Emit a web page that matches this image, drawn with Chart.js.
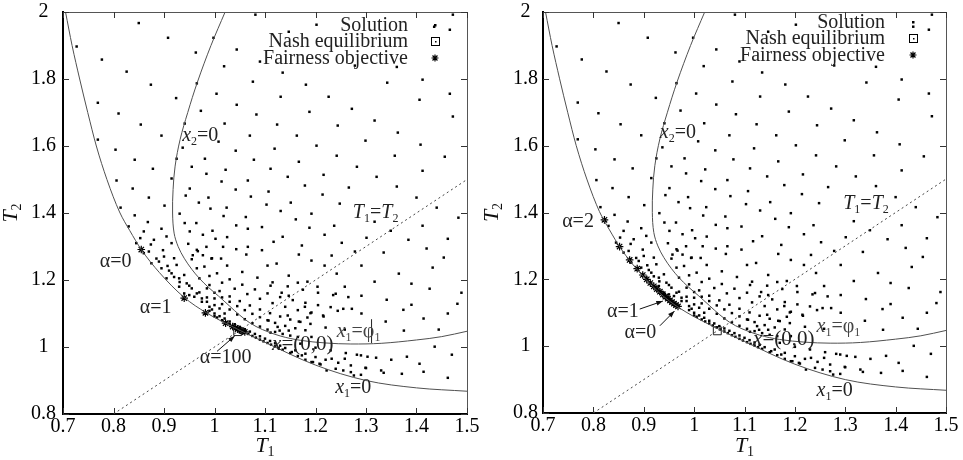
<!DOCTYPE html>
<html><head><meta charset="utf-8">
<script src="https://cdn.jsdelivr.net/npm/chart.js@4/dist/chart.umd.min.js"></script>
<style>
html,body{margin:0;padding:0;background:#fff;}
#wrap{position:relative;width:963px;height:460px;overflow:hidden;}
canvas{position:absolute;top:0;}
</style></head><body>
<div id="wrap">
<canvas id="c1" width="481" height="460" style="left:0"></canvas>
<canvas id="c2" width="482" height="460" style="left:481px"></canvas>
</div>
<script>
// ---------- data (T1, T2) ----------
const xTickValues = [0.7,0.8,0.9,1,1.1,1.2,1.3,1.4,1.5];
const yTickValues = [0.8,1,1.2,1.4,1.6,1.8,2];

const solutionPoints = [
[1.081,1.992],[0.850,1.967],[0.908,1.923],[0.998,1.923],[0.727,1.897],[0.963,1.879],[1.044,1.888],[0.777,1.858],[1.019,1.838],[1.090,1.852],
[0.826,1.822],[1.076,1.792],[0.874,1.783],[0.965,1.787],[1.004,1.756],[0.769,1.729],[0.924,1.743],[1.044,1.723],[0.810,1.697],[0.973,1.705],
[1.083,1.694],[0.854,1.664],[1.020,1.667],[0.941,1.667],[0.769,1.619],[0.895,1.631],[1.008,1.613],[1.070,1.631],[0.804,1.589],[0.937,1.595],
[1.042,1.586],[0.842,1.559],[0.925,1.562],[0.981,1.562],[1.078,1.559],[0.878,1.532],[0.955,1.538],[1.022,1.529],[0.806,1.497],[0.915,1.503],
[0.984,1.517],[1.014,1.494],[1.066,1.497],[0.838,1.473],[0.951,1.473],[1.042,1.470],[0.870,1.446],[0.943,1.452],[0.988,1.446],[1.072,1.449],
[0.814,1.416],[0.901,1.422],[0.969,1.431],[0.992,1.413],[1.024,1.416],
[1.472,1.992],[1.202,1.962],[1.147,1.941],[1.435,1.956],[1.466,1.947],[1.135,1.819],[1.412,1.798],[1.181,1.783],[1.342,1.789],[1.466,1.756],
[1.131,1.747],[1.226,1.747],[1.406,1.738],[1.188,1.702],[1.272,1.711],[1.124,1.664],[1.472,1.688],[1.317,1.676],[1.244,1.661],[1.163,1.631],
[1.363,1.640],[1.299,1.616],[1.119,1.592],[1.202,1.601],[1.408,1.604],[1.242,1.571],[1.357,1.571],[1.456,1.568],[1.111,1.532],[1.167,1.553],
[1.282,1.538],[1.412,1.526],[1.145,1.508],[1.216,1.514],[1.321,1.508],[1.107,1.464],[1.179,1.482],[1.266,1.476],[1.361,1.479],[1.214,1.455],
[1.400,1.446],[1.151,1.431],[1.248,1.428],[1.440,1.416],[1.131,1.406],[1.103,1.425],[1.278,1.840],[1.361,1.836],
[0.842,1.393],[0.868,1.373],[0.895,1.353],[0.853,1.325],[0.874,1.306],[0.898,1.289],[0.885,1.264],[0.907,1.242],[0.920,1.209],[0.931,1.194],
[0.931,1.398],[0.941,1.370],[0.964,1.370],[0.951,1.345],[0.977,1.335],[0.996,1.347],[1.018,1.391],[1.062,1.388],[1.043,1.363],[1.066,1.353],
[1.094,1.358],[1.002,1.323],[1.025,1.328],[0.948,1.308],[1.017,1.299],[1.066,1.299],[1.043,1.292],[0.967,1.286],[0.984,1.299],[0.994,1.264],
[1.013,1.264],[0.977,1.274],[0.957,1.274],[1.063,1.276],[1.094,1.289],
[0.870,1.285],[0.890,1.255],[0.910,1.228],[0.930,1.205],[0.950,1.183],[0.970,1.163],[0.985,1.148],
[0.940,1.160],[0.960,1.150],[0.975,1.135],[0.990,1.120],
[0.830,1.360],[0.860,1.345],[0.905,1.330],[0.845,1.310],[0.880,1.320],[0.915,1.310],[0.860,1.280],[0.900,1.270],[0.920,1.265],[0.875,1.250],
[0.925,1.245],[0.895,1.235],[0.915,1.220],[0.940,1.215],[0.905,1.205],[0.945,1.190],[0.930,1.180],[0.955,1.175],[0.965,1.160],[0.950,1.155],
[0.975,1.145],[0.985,1.135],[1.000,1.125],[1.010,1.115],[0.995,1.112],[1.020,1.100],
[0.990,1.108],[1.000,1.100],[1.010,1.092],[1.020,1.085],[1.030,1.076],[1.040,1.068],[1.050,1.060],[1.060,1.053],[1.070,1.046],[1.080,1.039],
[1.090,1.032],[1.100,1.025],[1.110,1.018],[1.120,1.011],[1.130,1.004],[1.140,0.997],
[1.000,1.092],[1.015,1.080],[1.030,1.068],[1.045,1.056],[1.060,1.044],[1.075,1.033],[1.090,1.022],[1.105,1.012],[1.120,1.002],[1.135,0.992],
[1.150,0.982],[1.165,0.973],
[1.005,1.088],[1.022,1.074],[1.037,1.062],[1.052,1.050],[1.067,1.039],[1.082,1.028],[1.097,1.017],[1.112,1.007],[1.127,0.997],
[1.000,1.145],[1.015,1.128],[1.030,1.112],[1.045,1.097],[1.060,1.083],[1.075,1.071],[1.090,1.061],[1.105,1.052],[1.120,1.045],[1.135,1.039],
[1.150,1.034],[1.165,1.030],
[0.985,1.175],[1.000,1.162],[1.015,1.148],[1.030,1.135],[1.045,1.122],[1.060,1.110],[1.075,1.099],[1.090,1.089],[1.105,1.080],[1.120,1.072],
[1.140,1.063],[1.160,1.056],[1.180,1.050],
[0.970,1.205],[0.990,1.185],[1.010,1.167],[1.030,1.151],[1.050,1.137],[1.070,1.124],[1.090,1.112],[1.110,1.101],[1.130,1.091],[1.150,1.082],
[1.170,1.075],[1.190,1.069],
[0.965,1.235],[0.990,1.212],[1.015,1.192],[1.040,1.174],[1.065,1.158],[1.090,1.144],[1.115,1.131],[1.140,1.120],[1.165,1.110],[1.190,1.101],
[1.215,1.094],
[0.955,1.262],[0.980,1.240],[1.005,1.220],[1.030,1.202],[1.055,1.186],[1.080,1.172],[1.105,1.160],[1.130,1.149],[1.155,1.140],[1.180,1.132],
[1.205,1.125],[1.230,1.119],[1.255,1.114],
[0.965,1.290],[0.995,1.265],[1.025,1.243],[1.055,1.224],[1.085,1.207],[1.115,1.193],[1.145,1.181],[1.175,1.171],[1.205,1.162],[1.235,1.155],
[1.265,1.149],
[1.180,0.962],[1.195,0.955],[1.210,0.948],[1.240,0.935],[1.255,0.930],[1.270,0.925],[1.290,0.917],
[1.160,0.990],[1.180,0.980],[1.200,0.970],[1.220,0.962],[1.245,0.953],[1.270,0.945],[1.300,0.937],[1.330,0.930],
[1.170,1.010],[1.200,0.998],[1.230,0.990],[1.260,0.982],[1.290,0.975],[1.320,0.968],[1.350,0.962],
[1.192,1.398],[1.161,1.381],[1.188,1.356],[1.237,1.362],[1.317,1.374],[1.349,1.347],[1.412,1.362],[1.483,1.386],[1.462,1.323],[1.135,1.329],
[1.117,1.314],[1.173,1.303],[1.218,1.335],[1.252,1.311],[1.301,1.326],[1.384,1.320],[1.420,1.294],[1.167,1.276],[1.192,1.258],[1.232,1.273],
[1.278,1.285],[1.335,1.282],[1.454,1.267],[1.105,1.243],[1.123,1.249],[1.147,1.213],[1.218,1.243],[1.242,1.219],[1.291,1.243],[1.365,1.219],
[1.432,1.237],[1.111,1.183],[1.133,1.162],[1.165,1.192],[1.184,1.195],[1.204,1.180],[1.258,1.180],[1.317,1.195],[1.390,1.189],[1.489,1.162],
[1.147,1.153],[1.179,1.120],[1.192,1.103],[1.240,1.159],[1.272,1.114],[1.291,1.153],[1.341,1.141],[1.390,1.126],[1.426,1.174],[1.481,1.129],
[1.107,1.079],[1.125,1.060],[1.145,1.094],[1.167,1.076],[1.184,1.088],[1.216,1.091],[1.244,1.108],[1.291,1.100],[1.339,1.076],[1.374,1.111],
[1.414,1.085],[1.462,1.100],[1.111,1.043],[1.129,1.049],[1.147,1.049],[1.192,1.030],[1.220,1.058],[1.258,1.052],[1.375,1.049],[1.444,1.052],
[1.153,0.985],[1.173,0.975],[1.192,0.955],[1.208,0.950],[1.232,0.965],[1.258,0.965],[1.282,0.977],[1.303,0.971],[1.381,0.971],[1.406,0.950],
[1.436,1.001],[1.470,0.977],[1.222,0.930],[1.276,0.915],[1.299,0.938],[1.335,0.923],[1.371,0.920],[1.414,0.926],[1.462,0.908]
];

const curveX1Zero = [[0.705,2.0],[0.718,1.90],[0.733,1.80],[0.749,1.70],[0.766,1.60],[0.787,1.50],[0.812,1.403],[0.832,1.348],
[0.855,1.291],[0.891,1.222],[0.940,1.148],[0.984,1.102],[1.050,1.050],[1.100,1.014],[1.200,0.946],[1.300,0.900],[1.400,0.878],[1.500,0.868]];

const curveX2Zero = [[1.021,2.0],[0.993,1.90],[0.966,1.79],[0.947,1.70],[0.932,1.62],[0.922,1.54],[0.918,1.47],[0.917,1.40],
[0.920,1.34],[0.928,1.30],[0.940,1.265],[0.955,1.232],[0.970,1.205],[0.988,1.178],[1.008,1.152],[1.030,1.122],[1.050,1.095],
[1.070,1.072],[1.095,1.052],[1.130,1.033],[1.170,1.020],[1.220,1.012],[1.270,1.009],[1.330,1.011],[1.400,1.021],[1.450,1.031],[1.500,1.047]];

const diagonalT1eqT2 = [[0.8,0.8],[1.5,1.5]];
const phiMarkerLeft = [[1.311,1.012],[1.311,1.083]];

const nashLeft = [[1.046,1.046]];
const nashRight = [[1.046,1.046]];

const fairnessLeft = [[0.855,1.291],[0.940,1.146],[0.982,1.102],[1.022,1.071],[1.036,1.061],[1.042,1.057],[1.046,1.054],
[1.050,1.051],[1.053,1.049],[1.056,1.047],[1.060,1.045]];

const fairnessRight = [[0.822,1.378],[0.852,1.298],[0.872,1.258],[0.887,1.232],[0.898,1.213],[0.906,1.200],[0.913,1.189],
[0.920,1.179],[0.926,1.171],[0.932,1.163],[0.938,1.155],[0.943,1.148],[0.948,1.142],[0.952,1.137],[0.956,1.132],[0.960,1.127],
[0.964,1.123],[0.968,1.119]];

// ---------- annotation texts ----------
const labelsLeft = [
  {parts:[{t:'x',it:1},{t:'2',sub:1},{t:'=0'}], at:[0.936,1.636]},
  {parts:[{t:'T',it:1},{t:'1',sub:1},{t:'='},{t:'T',it:1},{t:'2',sub:1}], at:[1.274,1.406]},
  {parts:[{t:'α=0'}], at:[0.773,1.260]},
  {parts:[{t:'α=1'}], at:[0.852,1.122]},
  {parts:[{t:'α=100'}], at:[0.971,0.974]},
  {parts:[{t:'x',it:1},{t:'=(0,0)'}], at:[1.114,1.012], size:21},
  {parts:[{t:'x',it:1},{t:'1',sub:1},{t:'=φ'},{t:'1',sub:1}], at:[1.242,1.051], color:'#444'},
  {parts:[{t:'x',it:1},{t:'1',sub:1},{t:'=0'}], at:[1.239,0.884]}
];
const labelsRight = [
  {parts:[{t:'x',it:1},{t:'2',sub:1},{t:'=0'}], at:[0.932,1.645]},
  {parts:[{t:'T',it:1},{t:'1',sub:1},{t:'='},{t:'T',it:1},{t:'2',sub:1}], at:[1.296,1.430]},
  {parts:[{t:'α=2'}], at:[0.738,1.379]},
  {parts:[{t:'α=1'}], at:[0.890,1.108], align:'right'},
  {parts:[{t:'α=0'}], at:[0.925,1.045], align:'right'},
  {parts:[{t:'x',it:1},{t:'=(0,0)'}], at:[1.117,1.024], size:21},
  {parts:[{t:'x',it:1},{t:'1',sub:1},{t:'=φ'},{t:'1',sub:1}], at:[1.243,1.063], color:'#444'},
  {parts:[{t:'x',it:1},{t:'1',sub:1},{t:'=0'}], at:[1.243,0.872]}
];
const arrowsLeft = [[[1.005,0.987],[1.040,1.033]]];
const arrowsRight = [[[0.892,1.111],[0.938,1.135]],[[0.932,1.061],[0.961,1.105]]];
const legendNames = ['Solution','Nash equilibrium','Fairness objective'];

// ---------- drawing ----------
const FONT = "'Liberation Serif','Times New Roman',serif";
const toXY = a => a.map(p => ({x:p[0], y:p[1]}));
const fmt = v => String(+(+v).toFixed(2));

function drawRich(ctx, parts, x, y, align, size, color) {
  let w = 0;
  const segs = parts.map(p => {
    const fs = p.sub ? Math.round(size*0.62) : size;
    const f = (p.it ? 'italic ' : '') + fs + 'px ' + FONT;
    ctx.font = f;
    const mw = ctx.measureText(p.t).width;
    w += mw;
    return {f, mw, t:p.t, dy: p.sub ? size*0.2 : 0};
  });
  let cx = align === 'right' ? x - w : (align === 'center' ? x - w/2 : x);
  ctx.textAlign = 'left'; ctx.textBaseline = 'alphabetic'; ctx.fillStyle = color || '#222';
  segs.forEach(s => { ctx.font = s.f; ctx.fillText(s.t, cx, y + s.dy); cx += s.mw; });
}

function drawStar(ctx, x, y, r) {
  ctx.beginPath();
  for (let k = 0; k < 4; k++) {
    const a = k * Math.PI / 4;
    ctx.moveTo(x - r*Math.cos(a), y - r*Math.sin(a));
    ctx.lineTo(x + r*Math.cos(a), y + r*Math.sin(a));
  }
  ctx.stroke();
}

const annoPlugin = {
  id: 'anno',
  afterDraw(chart, args, o) {
    const ctx = chart.ctx, ca = chart.chartArea, xs = chart.scales.x, ys = chart.scales.y;
    ctx.save();
    ctx.strokeStyle = '#555'; ctx.lineWidth = 1;
    ctx.beginPath();
    ctx.moveTo(ca.left, ca.top + 0.5); ctx.lineTo(ca.right + 0.5, ca.top + 0.5); ctx.lineTo(ca.right + 0.5, ca.bottom);
    ctx.stroke();
    ctx.strokeStyle = '#333';
    ctx.beginPath();
    xTickValues.forEach(v => {
      const px = Math.round(xs.getPixelForValue(v)) + 0.5;
      ctx.moveTo(px, ca.bottom); ctx.lineTo(px, ca.bottom - 6);
      ctx.moveTo(px, ca.top); ctx.lineTo(px, ca.top + 6);
    });
    yTickValues.forEach(v => {
      const py = Math.round(ys.getPixelForValue(v)) + 0.5;
      ctx.moveTo(ca.left, py); ctx.lineTo(ca.left + 6, py);
      ctx.moveTo(ca.right, py); ctx.lineTo(ca.right - 6, py);
    });
    ctx.stroke();
    ctx.strokeStyle = '#111'; ctx.fillStyle = '#111'; ctx.lineWidth = 1;
    o.arrows.forEach(a => {
      const x1 = xs.getPixelForValue(a[0][0]), y1 = ys.getPixelForValue(a[0][1]);
      const x2 = xs.getPixelForValue(a[1][0]), y2 = ys.getPixelForValue(a[1][1]);
      ctx.beginPath(); ctx.moveTo(x1, y1); ctx.lineTo(x2, y2); ctx.stroke();
      const ang = Math.atan2(y2 - y1, x2 - x1), L = 7, w = 0.35;
      ctx.beginPath(); ctx.moveTo(x2, y2);
      ctx.lineTo(x2 - L*Math.cos(ang - w), y2 - L*Math.sin(ang - w));
      ctx.lineTo(x2 - L*Math.cos(ang + w), y2 - L*Math.sin(ang + w));
      ctx.closePath(); ctx.fill();
    });
    o.labels.forEach(l => {
      const px = xs.getPixelForValue(l.at[0]), py = ys.getPixelForValue(l.at[1]);
      drawRich(ctx, l.parts, px, py + 7, l.align || 'left', l.size || 20, l.color);
    });
    const tx = ca.right - o.legend.textRight, sx = ca.right - o.legend.sample;
    legendNames.forEach((n, i) => {
      const cy = ca.top + o.legend.rows[i];
      drawRich(ctx, [{t:n}], tx, cy + 6, 'right', 20, '#222');
      ctx.fillStyle = '#000'; ctx.strokeStyle = '#000';
      if (i === 0) ctx.fillRect(sx - 1, cy - 1, 2.5, 2.5);
      if (i === 1) { ctx.lineWidth = 1; ctx.strokeRect(Math.round(sx - 4) + 0.5, Math.round(cy - 4) + 0.5, 8, 8); ctx.fillRect(Math.round(sx), Math.round(cy), 1.5, 1.5); }
      if (i === 2) { ctx.lineWidth = 1.2; drawStar(ctx, sx, cy, 3.5); }
    });
    drawRich(ctx, [{t:'T',it:1},{t:'1',sub:1}], (ca.left + ca.right)/2, o.xTitleY, 'center', 22, '#111');
    ctx.save();
    ctx.translate(o.yTitleX, (ca.top + ca.bottom)/2);
    ctx.rotate(-Math.PI/2);
    drawRich(ctx, [{t:'T',it:1},{t:'2',sub:1}], 0, 0, 'center', 22, '#111');
    ctx.restore();
    ctx.restore();
  }
};

function makeChart(id, cfg) {
  const ds = [
    {label:'x1=0', data:toXY(curveX1Zero), showLine:true, pointRadius:0, borderColor:'#505050', borderWidth:1, cubicInterpolationMode:'monotone', fill:false},
    {label:'x2=0', data:toXY(curveX2Zero), showLine:true, pointRadius:0, borderColor:'#505050', borderWidth:1, tension:0.35, fill:false},
    {label:'T1=T2', data:toXY(diagonalT1eqT2), showLine:true, pointRadius:0, borderColor:'#444', borderWidth:1, borderDash:[2,3], fill:false},
    {label:'Solution', data:toXY(solutionPoints), pointStyle:'rect', pointRadius:1.75, pointBackgroundColor:'#000', pointBorderWidth:0, showLine:false},
    {label:'Nash equilibrium', data:toXY(cfg.nash), pointStyle:'rect', pointRadius:5.6, pointBackgroundColor:'rgba(0,0,0,0)', pointBorderColor:'#222', pointBorderWidth:1, showLine:false},
    {label:'Fairness objective', data:toXY(cfg.fair), pointStyle:'star', pointRadius:3.8, pointBorderColor:'#000', pointBackgroundColor:'#000', pointBorderWidth:1.2, showLine:false}
  ];
  if (cfg.phi) ds.push({label:'phi', data:toXY(cfg.phi), showLine:true, pointRadius:0, borderColor:'#222', borderWidth:1, fill:false});
  const tickFont = {family:FONT, size:20};
  return new Chart(document.getElementById(id), {
    type:'scatter',
    data:{datasets:ds},
    options:{
      responsive:false, animation:false, devicePixelRatio:1,
      layout:{padding:{top:12, right:cfg.padRight, left:0, bottom:0}},
      plugins:{legend:{display:false}, tooltip:{enabled:false}, anno:cfg.anno},
      scales:{
        x:{type:'linear', min:0.7, max:1.5, afterFit:s => { s.height = cfg.xH; },
           grid:{display:false}, border:{display:true, color:'#000', width:2},
           ticks:{stepSize:0.1, font:tickFont, color:'#000', padding:-7, maxRotation:0, autoSkip:false, callback:fmt}},
        y:{type:'linear', min:0.8, max:2, afterFit:s => { s.width = cfg.yW; },
           grid:{display:false}, border:{display:true, color:'#000', width:2},
           ticks:{stepSize:0.2, font:tickFont, color:'#000', padding:cfg.yPad, crossAlign:'center', autoSkip:false, callback:fmt}}
      }
    },
    plugins:[annoPlugin]
  });
}

makeChart('c1', {nash:nashLeft, fair:fairnessLeft, phi:phiMarkerLeft, padRight:14, xH:46, yW:63, yPad:-1,
  anno:{labels:labelsLeft, arrows:arrowsLeft, legend:{textRight:59, sample:32, rows:[13,29,46]}, xTitleY:452, yTitleX:17}});
makeChart('c2', {nash:nashRight, fair:fairnessRight, phi:null, padRight:17, xH:47, yW:62, yPad:-3,
  anno:{labels:labelsRight, arrows:arrowsRight, legend:{textRight:61, sample:33, rows:[10,26,43]}, xTitleY:452, yTitleX:17}});
</script>
</body></html>
